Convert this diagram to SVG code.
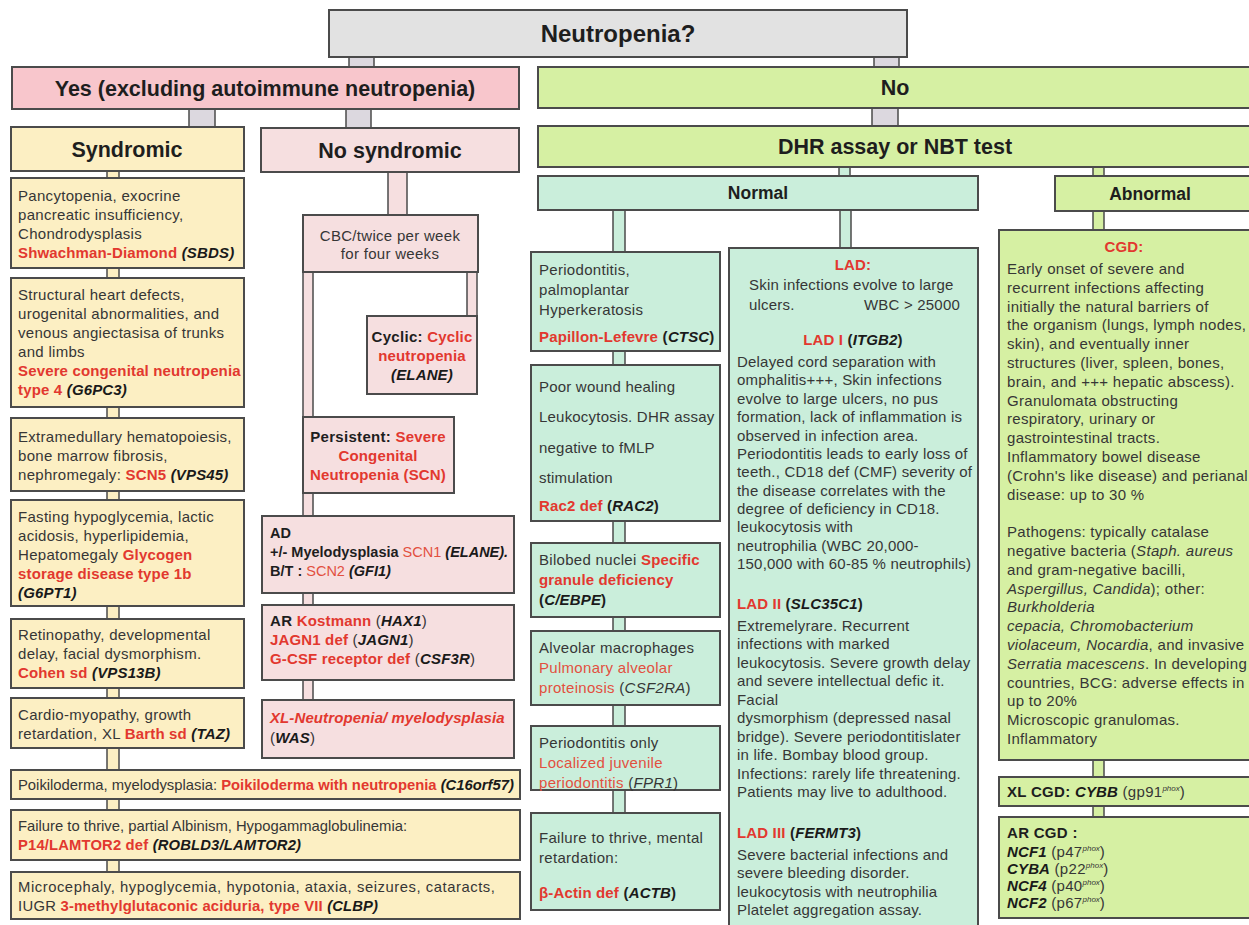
<svg xmlns="http://www.w3.org/2000/svg" width="1249" height="925" viewBox="0 0 1249 925">
  <style>
    .box { stroke: #4b4b4b; stroke-width: 2; }
    .pipe { stroke: #4b4b4b; stroke-width: 1.5; }
    .gray { fill: #e2e2e2; }
    .pink { fill: #f8c6cc; }
    .lpink { fill: #f6dfe0; }
    .yel { fill: #fcefc3; }
    .grn { fill: #d6f0a3; }
    .mint { fill: #caeedb; }
    .lav { fill: #dcd8df; }
    text { font-family: "Liberation Sans", Arial, sans-serif; font-size: 15px; letter-spacing: 0.3px; fill: #363636; }
    #lad text, #rac2 text { letter-spacing: 0.2px; }
    .hd { font-weight: bold; fill: #1e1e1e; font-size: 21.5px; letter-spacing: 0; }
    .c { text-anchor: middle; }
    .bk { font-weight: bold; fill: #1e1e1e; }
    .r { fill: #e2382f; font-weight: bold; letter-spacing: 0.15px; }
    .rl { fill: #e2503f; }
    .g { fill: #1a1a1a; font-weight: bold; font-style: italic; letter-spacing: 0.15px; }
    .i { font-style: italic; }
    .sup { font-size: 8px; font-style: italic; letter-spacing: 0; }
    .tight { font-size: 14.5px; letter-spacing: 0; }
  </style>

  <!-- connectors: short pipes joining the boxes -->
  <g id="connectors">
    <rect class="pipe lav" x="349" y="57" width="25" height="10"/>
    <rect class="pipe lav" x="874" y="57" width="25" height="10"/>
    <rect class="pipe lav" x="189" y="109" width="26" height="18"/>
    <rect class="pipe lav" x="346" y="109" width="25" height="19"/>
    <rect class="pipe lav" x="872" y="108" width="26" height="18"/>
    <rect class="pipe mint" x="839" y="167" width="11" height="9"/>
    <rect class="pipe grn" x="1093" y="167" width="11" height="9"/>
    <rect class="pipe mint" x="613" y="210" width="12" height="42"/>
    <rect class="pipe mint" x="840" y="210" width="11" height="38"/>
    <rect class="pipe grn" x="1093" y="211" width="11" height="19"/>
    <rect class="pipe mint" x="613" y="351" width="12" height="14"/>
    <rect class="pipe mint" x="613" y="521" width="12" height="22"/>
    <rect class="pipe mint" x="613" y="617" width="12" height="14"/>
    <rect class="pipe mint" x="613" y="705" width="12" height="21"/>
    <rect class="pipe mint" x="613" y="790" width="12" height="23"/>
    <rect class="pipe grn" x="1093" y="760" width="11" height="17"/>
    <rect class="pipe grn" x="1093" y="806" width="11" height="11"/>
    <rect class="pipe yel" x="107" y="171" width="12" height="7"/>
    <rect class="pipe yel" x="107" y="268" width="12" height="10"/>
    <rect class="pipe yel" x="107" y="407" width="12" height="11"/>
    <rect class="pipe yel" x="107" y="491" width="12" height="9"/>
    <rect class="pipe yel" x="107" y="606" width="12" height="13"/>
    <rect class="pipe yel" x="107" y="688" width="12" height="10"/>
    <rect class="pipe yel" x="107" y="748" width="12" height="22"/>
    <rect class="pipe yel" x="107" y="799" width="12" height="11"/>
    <rect class="pipe yel" x="107" y="860" width="12" height="12"/>
    <rect class="pipe lpink" x="388" y="172" width="19" height="43"/>
    <rect class="pipe lpink" x="467" y="272" width="10" height="44"/>
    <rect class="pipe lpink" x="303" y="272" width="10" height="145"/>
    <rect class="pipe lpink" x="303" y="493" width="10" height="23"/>
    <rect class="pipe lpink" x="303" y="593" width="10" height="12"/>
    <rect class="pipe lpink" x="303" y="680" width="10" height="20"/>
  </g>

  <!-- top question -->
  <g id="neutropenia">
    <rect class="box gray" x="329" y="10" width="578" height="47"/>
    <text class="hd c" x="618" y="42" style="font-size:24px">Neutropenia?</text>
  </g>

  <g id="yes">
    <rect class="box pink" x="12" y="67" width="507" height="42"/>
    <text class="hd c" x="265" y="96">Yes (excluding autoimmune neutropenia)</text>
  </g>

  <g id="no">
    <rect class="box grn" x="538" y="67" width="720" height="41"/>
    <text class="hd c" x="895" y="95">No</text>
  </g>

  <g id="syndromic">
    <rect class="box yel" x="11" y="127" width="233" height="44"/>
    <text class="hd c" x="127" y="157">Syndromic</text>
  </g>

  <g id="no-syndromic">
    <rect class="box lpink" x="261" y="128" width="258" height="44"/>
    <text class="hd c" x="390" y="158">No syndromic</text>
  </g>

  <g id="dhr">
    <rect class="box grn" x="538" y="126" width="720" height="41"/>
    <text class="hd c" x="895" y="154">DHR assay or NBT test</text>
  </g>

  <g id="normal">
    <rect class="box mint" x="538" y="176" width="440" height="34"/>
    <text class="hd c" x="758" y="199" style="font-size:17.5px">Normal</text>
  </g>

  <g id="abnormal">
    <rect class="box grn" x="1055" y="176" width="200" height="35"/>
    <text class="hd c" x="1150" y="200" style="font-size:17.5px">Abnormal</text>
  </g>

  <!-- syndromic column -->
  <g id="sbds">
    <rect class="box yel" x="11" y="178" width="233" height="90"/>
    <text x="18" y="201">Pancytopenia, exocrine</text>
    <text x="18" y="220">pancreatic insufficiency,</text>
    <text x="18" y="239">Chondrodysplasis</text>
    <text x="18" y="258"><tspan class="r">Shwachman-Diamond</tspan> <tspan class="g">(SBDS)</tspan></text>
  </g>

  <g id="g6pc3">
    <rect class="box yel" x="11" y="278" width="233" height="129"/>
    <text x="18" y="300">Structural heart defects,</text>
    <text x="18" y="319">urogenital abnormalities, and</text>
    <text x="18" y="338">venous angiectasisa of trunks</text>
    <text x="18" y="357">and limbs</text>
    <text x="18" y="376" class="r">Severe congenital neutropenia</text>
    <text x="18" y="395"><tspan class="r">type 4</tspan> <tspan class="g">(G6PC3)</tspan></text>
  </g>

  <g id="vps45">
    <rect class="box yel" x="11" y="418" width="233" height="73"/>
    <text x="18" y="442">Extramedullary hematopoiesis,</text>
    <text x="18" y="461">bone marrow fibrosis,</text>
    <text x="18" y="480">nephromegaly: <tspan class="r">SCN5</tspan> <tspan class="g">(VPS45)</tspan></text>
  </g>

  <g id="g6pt1">
    <rect class="box yel" x="11" y="500" width="233" height="106"/>
    <text x="18" y="522">Fasting hypoglycemia, lactic</text>
    <text x="18" y="541">acidosis, hyperlipidemia,</text>
    <text x="18" y="560">Hepatomegaly <tspan class="r">Glycogen</tspan></text>
    <text x="18" y="579" class="r">storage disease type 1b</text>
    <text x="18" y="598" class="g">(G6PT1)</text>
  </g>

  <g id="cohen">
    <rect class="box yel" x="11" y="619" width="233" height="69"/>
    <text x="18" y="640">Retinopathy, developmental</text>
    <text x="18" y="659">delay, facial dysmorphism.</text>
    <text x="18" y="678"><tspan class="r">Cohen sd</tspan> <tspan class="g">(VPS13B)</tspan></text>
  </g>

  <g id="barth">
    <rect class="box yel" x="11" y="698" width="233" height="50"/>
    <text x="18" y="720">Cardio-myopathy, growth</text>
    <text x="18" y="739">retardation, XL <tspan class="r">Barth sd</tspan> <tspan class="g">(TAZ)</tspan></text>
  </g>

  <g id="poikiloderma">
    <rect class="box yel" x="11" y="770" width="509" height="29"/>
    <text x="18" y="790" style="font-size:14.8px;letter-spacing:0">Poikiloderma, myelodysplasia: <tspan class="r" style="letter-spacing:0">Poikiloderma with neutropenia</tspan> <tspan class="g" style="letter-spacing:0">(C16orf57)</tspan></text>
  </g>

  <g id="p14">
    <rect class="box yel" x="11" y="810" width="509" height="50"/>
    <text x="18" y="831" style="font-size:14.8px;letter-spacing:0">Failure to thrive, partial Albinism, Hypogammaglobulinemia:</text>
    <text x="18" y="850" style="font-size:14.8px"><tspan class="r">P14/LAMTOR2 def</tspan> <tspan class="g">(ROBLD3/LAMTOR2)</tspan></text>
  </g>

  <g id="clbp">
    <rect class="box yel" x="11" y="872" width="509" height="47"/>
    <text x="18" y="892" style="font-size:14.8px;letter-spacing:0.55px">Microcephaly, hypoglycemia, hypotonia, ataxia, seizures, cataracts,</text>
    <text x="18" y="911" style="font-size:14.8px">IUGR <tspan class="r">3-methylglutaconic aciduria, type VII</tspan> <tspan class="g">(CLBP)</tspan></text>
  </g>

  <!-- non-syndromic column -->
  <g id="cbc">
    <rect class="box lpink" x="303" y="215" width="175" height="57"/>
    <text class="c" x="390" y="241">CBC/twice per week</text>
    <text class="c" x="390" y="259">for four weeks</text>
  </g>

  <g id="cyclic">
    <rect class="box lpink" x="367" y="316" width="110" height="78"/>
    <text class="c" x="422" y="342"><tspan class="bk">Cyclic:</tspan> <tspan class="r">Cyclic</tspan></text>
    <text class="c r" x="422" y="361">neutropenia</text>
    <text class="c g" x="422" y="380">(ELANE)</text>
  </g>

  <g id="persistent">
    <rect class="box lpink" x="303" y="417" width="151" height="76"/>
    <text class="c" x="378" y="442"><tspan class="bk">Persistent:</tspan> <tspan class="r">Severe</tspan></text>
    <text class="c r" x="378" y="461">Congenital</text>
    <text class="c r" x="378" y="480">Neutropenia (SCN)</text>
  </g>

  <g id="scn-ad">
    <rect class="box lpink" x="262" y="516" width="252" height="77"/>
    <text x="270" y="538" class="bk tight">AD</text>
    <text x="270" y="557" class="tight"><tspan class="bk">+/- Myelodysplasia</tspan> <tspan class="rl">SCN1</tspan> <tspan class="g" style="letter-spacing:0">(ELANE).</tspan></text>
    <text x="270" y="576" class="tight"><tspan class="bk">B/T :</tspan> <tspan class="rl">SCN2</tspan> <tspan class="g" style="letter-spacing:0">(GFI1)</tspan></text>
  </g>

  <g id="scn-ar">
    <rect class="box lpink" x="262" y="605" width="252" height="75"/>
    <text x="270" y="626"><tspan class="bk">AR</tspan> <tspan class="r">Kostmann</tspan> (<tspan class="g">HAX1</tspan>)</text>
    <text x="270" y="645"><tspan class="r">JAGN1 def</tspan> (<tspan class="g">JAGN1</tspan>)</text>
    <text x="270" y="664"><tspan class="r">G-CSF receptor def</tspan> (<tspan class="g">CSF3R</tspan>)</text>
  </g>

  <g id="scn-xl">
    <rect class="box lpink" x="262" y="700" width="252" height="58"/>
    <text x="270" y="723" class="r" style="font-style:italic;letter-spacing:0.1px">XL-Neutropenia/ myelodysplasia</text>
    <text x="270" y="743">(<tspan class="g">WAS</tspan>)</text>
  </g>

  <!-- normal burst column -->
  <g id="papillon">
    <rect class="box mint" x="531" y="252" width="189" height="99"/>
    <text x="539" y="275">Periodontitis,</text>
    <text x="539" y="295">palmoplantar</text>
    <text x="539" y="315">Hyperkeratosis</text>
    <text x="539" y="342"><tspan class="r">Papillon-Lefevre</tspan> <tspan class="bk">(</tspan><tspan class="g">CTSC</tspan><tspan class="bk">)</tspan></text>
  </g>

  <g id="rac2">
    <rect class="box mint" x="531" y="365" width="189" height="156"/>
    <text x="539" y="392">Poor wound healing</text>
    <text x="539" y="422">Leukocytosis. DHR assay</text>
    <text x="539" y="453">negative to fMLP</text>
    <text x="539" y="483">stimulation</text>
    <text x="539" y="511"><tspan class="r">Rac2 def</tspan> <tspan class="bk">(</tspan><tspan class="g">RAC2</tspan><tspan class="bk">)</tspan></text>
  </g>

  <g id="sgd">
    <rect class="box mint" x="531" y="543" width="189" height="74"/>
    <text x="539" y="565">Bilobed nuclei <tspan class="r">Specific</tspan></text>
    <text x="539" y="585" class="r">granule deficiency</text>
    <text x="539" y="605"><tspan class="bk">(</tspan><tspan class="g">C/EBPE</tspan><tspan class="bk">)</tspan></text>
  </g>

  <g id="pap">
    <rect class="box mint" x="531" y="631" width="189" height="74"/>
    <text x="539" y="653">Alveolar macrophages</text>
    <text x="539" y="673" class="rl">Pulmonary alveolar</text>
    <text x="539" y="693"><tspan class="rl">proteinosis</tspan> (<tspan class="i">CSF2RA</tspan>)</text>
  </g>

  <g id="ljp">
    <rect class="box mint" x="531" y="726" width="189" height="64"/>
    <text x="539" y="748">Periodontitis only</text>
    <text x="539" y="768" class="rl">Localized juvenile</text>
    <text x="539" y="788"><tspan class="rl">periodontitis</tspan> (<tspan class="i">FPR1</tspan>)</text>
  </g>

  <g id="actin">
    <rect class="box mint" x="531" y="813" width="189" height="97"/>
    <text x="539" y="843">Failure to thrive, mental</text>
    <text x="539" y="863">retardation:</text>
    <text x="539" y="898"><tspan class="r">β-Actin def</tspan> <tspan class="bk">(</tspan><tspan class="g">ACTB</tspan><tspan class="bk">)</tspan></text>
  </g>

  <g id="lad">
    <rect class="box mint" x="729" y="248" width="249" height="700"/>
    <text class="c r" x="853" y="270">LAD:</text>
    <text x="749" y="290">Skin infections evolve to large</text>
    <text x="749" y="310">ulcers.<tspan x="864">WBC &gt; 25000</tspan></text>
    <text class="c" x="853" y="345"><tspan class="r">LAD I</tspan> <tspan class="bk">(</tspan><tspan class="g">ITGB2</tspan><tspan class="bk">)</tspan></text>
    <text x="737" y="367">Delayed cord separation with</text>
    <text x="737" y="385">omphalitis+++, Skin infections</text>
    <text x="737" y="404">evolve to large ulcers, no pus</text>
    <text x="737" y="422">formation, lack of inflammation is</text>
    <text x="737" y="441">observed in infection area.</text>
    <text x="737" y="459">Periodontitis leads to early loss of</text>
    <text x="737" y="477">teeth., CD18 def (CMF) severity of</text>
    <text x="737" y="496">the disease correlates with the</text>
    <text x="737" y="514">degree of deficiency in CD18.</text>
    <text x="737" y="532">leukocytosis with</text>
    <text x="737" y="551">neutrophilia (WBC 20,000-</text>
    <text x="737" y="569">150,000 with 60-85 % neutrophils)</text>
    <text x="737" y="609"><tspan class="r">LAD II</tspan> <tspan class="bk">(</tspan><tspan class="g">SLC35C1</tspan><tspan class="bk">)</tspan></text>
    <text x="737" y="631">Extremelyrare. Recurrent</text>
    <text x="737" y="649">infections with marked</text>
    <text x="737" y="668">leukocytosis. Severe growth delay</text>
    <text x="737" y="686">and severe intellectual defic it.</text>
    <text x="737" y="705">Facial</text>
    <text x="737" y="723">dysmorphism (depressed nasal</text>
    <text x="737" y="742">bridge). Severe periodontitislater</text>
    <text x="737" y="760">in life. Bombay blood group.</text>
    <text x="737" y="779">Infections: rarely life threatening.</text>
    <text x="737" y="797">Patients may live to adulthood.</text>
    <text x="737" y="838"><tspan class="r">LAD III</tspan> <tspan class="bk">(</tspan><tspan class="g">FERMT3</tspan><tspan class="bk">)</tspan></text>
    <text x="737" y="860">Severe bacterial infections and</text>
    <text x="737" y="878">severe bleeding disorder.</text>
    <text x="737" y="897">leukocytosis with neutrophilia</text>
    <text x="737" y="915">Platelet aggregation assay.</text>
  </g>

  <!-- abnormal burst column -->
  <g id="cgd">
    <rect class="box grn" x="999" y="230" width="260" height="530"/>
    <text class="c r" x="1124" y="252">CGD:</text>
    <text x="1007" y="274">Early onset of severe and</text>
    <text x="1007" y="293">recurrent infections affecting</text>
    <text x="1007" y="312">initially the natural barriers of</text>
    <text x="1007" y="330">the organism (lungs, lymph nodes,</text>
    <text x="1007" y="349">skin), and eventually inner</text>
    <text x="1007" y="368">structures (liver, spleen, bones,</text>
    <text x="1007" y="387">brain, and +++ hepatic abscess).</text>
    <text x="1007" y="406">Granulomata obstructing</text>
    <text x="1007" y="424">respiratory, urinary or</text>
    <text x="1007" y="443">gastrointestinal tracts.</text>
    <text x="1007" y="462">Inflammatory bowel disease</text>
    <text x="1007" y="481">(Crohn's like disease) and perianal</text>
    <text x="1007" y="500">disease: up to 30 %</text>
    <text x="1007" y="537">Pathogens: typically catalase</text>
    <text x="1007" y="556">negative bacteria (<tspan class="i">Staph. aureus</tspan></text>
    <text x="1007" y="575">and gram-negative bacilli,</text>
    <text x="1007" y="594"><tspan class="i">Aspergillus, Candida</tspan>); other:</text>
    <text x="1007" y="612" class="i">Burkholderia</text>
    <text x="1007" y="631" class="i">cepacia, Chromobacterium</text>
    <text x="1007" y="650"><tspan class="i">violaceum, Nocardia</tspan>, and invasive</text>
    <text x="1007" y="669"><tspan class="i">Serratia macescens</tspan>. In developing</text>
    <text x="1007" y="688">countries, BCG: adverse effects in</text>
    <text x="1007" y="706">up to 20%</text>
    <text x="1007" y="725">Microscopic granulomas.</text>
    <text x="1007" y="744">Inflammatory</text>
  </g>

  <g id="xl-cgd">
    <rect class="box grn" x="999" y="777" width="260" height="29"/>
    <text x="1007" y="797"><tspan class="bk">XL CGD:</tspan> <tspan class="g">CYBB</tspan> (gp91<tspan class="sup" dy="-6">phox</tspan><tspan dy="6">)</tspan></text>
  </g>

  <g id="ar-cgd">
    <rect class="box grn" x="999" y="817" width="260" height="101"/>
    <text x="1007" y="838" class="bk">AR CGD :</text>
    <text x="1007" y="857"><tspan class="g">NCF1</tspan> (p47<tspan class="sup" dy="-6">phox</tspan><tspan dy="6">)</tspan></text>
    <text x="1007" y="874"><tspan class="g">CYBA</tspan> (p22<tspan class="sup" dy="-6">phox</tspan><tspan dy="6">)</tspan></text>
    <text x="1007" y="891"><tspan class="g">NCF4</tspan> (p40<tspan class="sup" dy="-6">phox</tspan><tspan dy="6">)</tspan></text>
    <text x="1007" y="908"><tspan class="g">NCF2</tspan> (p67<tspan class="sup" dy="-6">phox</tspan><tspan dy="6">)</tspan></text>
  </g>
</svg>
